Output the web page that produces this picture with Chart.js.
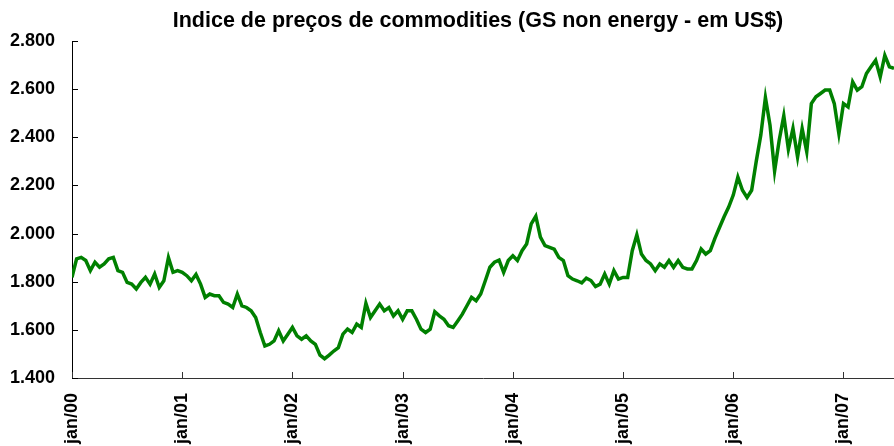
<!DOCTYPE html>
<html>
<head>
<meta charset="utf-8">
<script src="https://cdn.jsdelivr.net/npm/chart.js@4"></script>
<style>
  html, body { margin: 0; padding: 0; background: #fff; overflow: hidden; }
  #wrap { width: 894px; height: 446px; }
</style>
</head>
<body>
<div id="wrap"><canvas id="c" width="894" height="446"></canvas></div>
<script>
// Chart title
const chartTitle = 'Indice de preços de commodities (GS non energy - em US$)';

// x tick labels (one per January)
const tickLabels = ['jan/00', 'jan/01', 'jan/02', 'jan/03', 'jan/04', 'jan/05', 'jan/06', 'jan/07'];

// Half-month periods from jan/2000 to mid-jun/2007 (index 0 = jan/00, 24 per year)
const periodsPerYear = 24;

// Index values (GS non energy, US$), one per half month
const values = [
  1818, 1895, 1901, 1888, 1846, 1881, 1860, 1874, 1895, 1901, 1846, 1839,
  1797, 1790, 1770, 1797, 1818, 1790, 1832, 1776, 1804, 1900, 1839, 1846,
  1839, 1825, 1804, 1830, 1790, 1735, 1749, 1742, 1742, 1714, 1707, 1693,
  1749, 1700, 1693, 1679, 1651, 1589, 1533, 1540, 1554, 1596, 1554, 1582,
  1610, 1575, 1561, 1575, 1554, 1540, 1495, 1480, 1495, 1512, 1526, 1582,
  1603, 1589, 1624, 1610, 1710, 1651, 1679, 1707, 1679, 1693, 1658, 1679,
  1644, 1679, 1679, 1644, 1603, 1589, 1603, 1675, 1658, 1644, 1617, 1610,
  1637, 1665, 1700, 1735, 1721, 1749, 1804, 1860, 1881, 1890, 1839, 1888,
  1908, 1888, 1929, 1957, 2040, 2072, 1985, 1950, 1943, 1935, 1901, 1888,
  1825, 1811, 1804, 1795, 1815, 1805, 1780, 1790, 1832, 1790, 1846, 1811,
  1818, 1818, 1929, 1995, 1915, 1888, 1874, 1846, 1874, 1860, 1888, 1860,
  1888, 1860, 1853, 1853, 1888, 1936, 1915, 1929, 1980, 2025, 2070, 2110,
  2160, 2235, 2180, 2150, 2180, 2300, 2410, 2565, 2450, 2260, 2388, 2490,
  2350, 2437, 2318, 2436, 2340, 2540, 2568, 2582, 2596, 2596, 2540, 2415,
  2540, 2526, 2630, 2596, 2610, 2665, 2693, 2720, 2651, 2740, 2693, 2686
];

const lineColor = '#008000';
const fontFamily = '"Liberation Sans", Arial, Helvetica, sans-serif';

function fmtThousands(v) {
  const t = Math.floor(v / 1000);
  const r = String(Math.round(v % 1000)).padStart(3, '0');
  return t + '.' + r;
}

const innerTicks = {
  id: 'innerTicks',
  afterDraw(chart) {
    const ctx = chart.ctx;
    const a = chart.chartArea;
    const xs = chart.scales.x, ys = chart.scales.y;
    ctx.save();
    ctx.lineWidth = 1;
    ctx.strokeStyle = '#000';
    ys.ticks.forEach(t => {
      const py = Math.round(ys.getPixelForValue(t.value)) + 0.5;
      ctx.beginPath(); ctx.moveTo(a.left, py); ctx.lineTo(a.left + 6, py); ctx.stroke();
    });
    ctx.strokeStyle = '#333';
    xs.ticks.forEach(t => {
      if (t.value % periodsPerYear !== 0) return;
      const px = Math.round(xs.getPixelForValue(t.value)) + 0.5;
      ctx.beginPath(); ctx.moveTo(px, a.bottom); ctx.lineTo(px, a.bottom - 6); ctx.stroke();
    });
    // title centred over the plot area
    ctx.fillStyle = '#000';
    ctx.font = 'bold 21.5px ' + fontFamily;
    ctx.textAlign = 'center';
    ctx.textBaseline = 'alphabetic';
    ctx.fillText(chartTitle, (a.left + a.right) / 2 - 5, 27);
    ctx.restore();
  }
};

new Chart(document.getElementById('c'), {
  type: 'line',
  data: {
    datasets: [{
      data: values.map((v, i) => ({ x: i, y: v })),
      borderColor: lineColor,
      borderWidth: 3.5,
      pointRadius: 0,
      tension: 0,
      fill: false
    }]
  },
  options: {
    responsive: false,
    animation: false,
    devicePixelRatio: 1,
    layout: { padding: { top: 41, right: 0, left: 0, bottom: 0 } },
    plugins: { legend: { display: false }, tooltip: { enabled: false }, title: { display: false } },
    scales: {
      x: {
        type: 'linear',
        min: 0,
        max: values.length - 1,
        grid: { display: false, drawTicks: false },
        border: { display: true, color: '#333', width: 1 },
        afterFit(s) { s.height = 68; },
        ticks: {
          stepSize: periodsPerYear,
          includeBounds: false,
          autoSkip: false,
          minRotation: 90,
          maxRotation: 90,
          padding: 15,
          color: '#000',
          font: { family: fontFamily, size: 18, weight: 'bold' },
          callback: (v) => (v % periodsPerYear === 0 ? (tickLabels[v / periodsPerYear] || '') : '')
        }
      },
      y: {
        min: 1400,
        max: 2800,
        grid: { display: false, drawTicks: false },
        border: { display: true, color: '#000', width: 1 },
        afterFit(s) { s.width = 72; },
        ticks: {
          stepSize: 200,
          padding: 17,
          color: '#000',
          font: { family: fontFamily, size: 18, weight: 'bold' },
          callback: (v) => fmtThousands(v)
        }
      }
    }
  },
  plugins: [innerTicks]
});
</script>
</body>
</html>
